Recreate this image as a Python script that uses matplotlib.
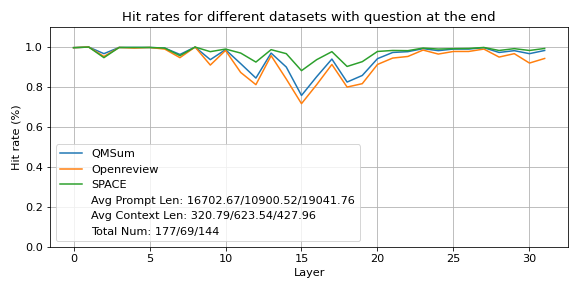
import matplotlib
matplotlib.use("Agg")
import matplotlib.pyplot as plt
import numpy as np

# Hit rate per layer for each dataset.
layers = np.arange(32)
qmsum = [0.997, 1.0, 0.967, 0.998, 0.998, 0.998, 0.995, 0.963, 1.0, 0.937,
         0.987, 0.917, 0.845, 0.97, 0.9, 0.758, 0.852, 0.94, 0.825, 0.858,
         0.942, 0.973, 0.977, 0.992, 0.982, 0.99, 0.99, 0.997, 0.973, 0.982,
         0.967, 0.983]
openreview = [0.997, 1.0, 0.953, 0.998, 0.995, 0.998, 0.99, 0.947, 1.0, 0.91,
              0.983, 0.873, 0.812, 0.957, 0.84, 0.717, 0.812, 0.913, 0.8,
              0.817, 0.913, 0.945, 0.953, 0.985, 0.965, 0.978, 0.978, 0.99,
              0.95, 0.967, 0.92, 0.943]
space = [0.997, 1.0, 0.947, 0.998, 0.998, 0.998, 0.995, 0.957, 1.0, 0.977,
         0.99, 0.97, 0.925, 0.987, 0.967, 0.882, 0.937, 0.977, 0.903, 0.927,
         0.978, 0.983, 0.982, 0.995, 0.99, 0.992, 0.993, 0.998, 0.983, 0.992,
         0.983, 0.993]

dataset_names = ["QMSum", "Openreview", "SPACE"]
extra_info = [
    "Avg Prompt Len: 16702.67/10900.52/19041.76",
    "Avg Context Len: 320.79/623.54/427.96",
    "Total Num: 177/69/144",
]

plt.rcParams["font.size"] = 11.2

fig, ax = plt.subplots(figsize=(581 / 72, 291 / 72), dpi=72)
fig.subplots_adjust(left=0.086, right=0.978, top=0.907, bottom=0.151)

for name, vals in zip(dataset_names, [qmsum, openreview, space]):
    ax.plot(layers, vals, label=name)
# Text-only legend entries.
for txt in extra_info:
    ax.plot([], [], " ", label=txt)

ax.set_ylim(0, 1.1)
ax.set_xticks(range(0, 31, 5))
ax.set_yticks(np.arange(0, 1.01, 0.2))
ax.set_title("Hit rates for different datasets with question at the end",
             fontsize=13.4)
ax.set_xlabel("Layer")
ax.set_ylabel("Hit rate (%)")
ax.grid(True)
ax.legend(loc="lower left")

fig.savefig("out.png", dpi=72)
